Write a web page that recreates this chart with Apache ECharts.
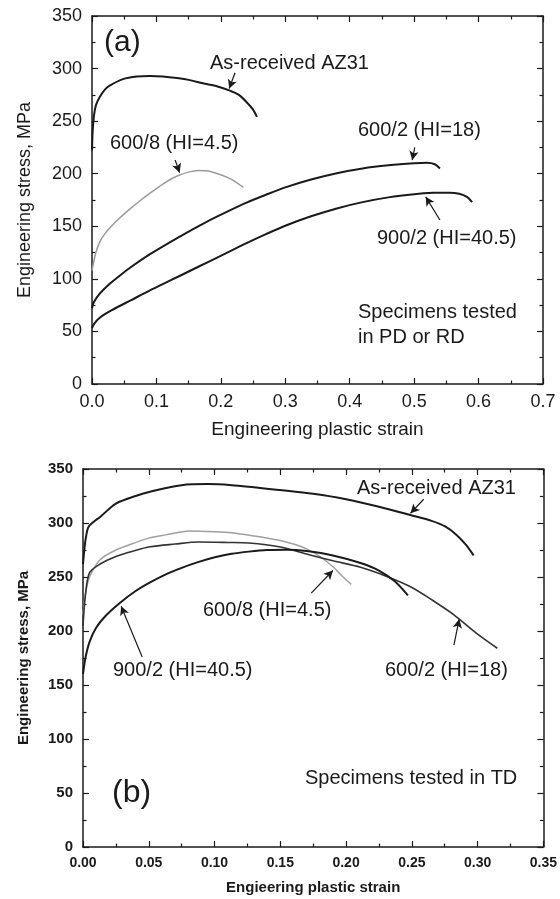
<!DOCTYPE html>
<html>
<head>
<meta charset="utf-8">
<script src="https://cdn.jsdelivr.net/npm/echarts@6/dist/echarts.min.js"></script>
<style>
html, body { margin: 0; padding: 0; background: #fff; }
#main { width: 560px; height: 899px; }
</style>
</head>
<body>
<div id="main"></div>
<script>
// (a) specimens tested in PD or RD
var strainAsRecA = [0, 0.001, 0.003, 0.006, 0.012, 0.02, 0.028, 0.048, 0.07, 0.09, 0.11, 0.132, 0.152, 0.172, 0.195, 0.214, 0.228, 0.24, 0.25, 0.256];
var stressAsRecA = [222, 240, 255, 265, 273, 280, 284, 290, 292.5, 293, 292.5, 291, 289, 286, 283, 279, 275, 268, 261, 254];
var strain6008A = [0, 0.002, 0.006, 0.012, 0.02, 0.03, 0.045, 0.06, 0.075, 0.09, 0.105, 0.12, 0.135, 0.15, 0.165, 0.18, 0.195, 0.21, 0.222, 0.235];
var stress6008A = [108, 114, 125, 135, 143, 150, 159, 167, 174.5, 181.5, 188, 194, 198.5, 201.5, 203, 202.5, 200, 196.5, 192.5, 187];
var strain6002A = [0, 0.003, 0.012, 0.025, 0.04, 0.06, 0.09, 0.12, 0.15, 0.18, 0.21, 0.24, 0.27, 0.3, 0.34, 0.38, 0.42, 0.46, 0.5, 0.52, 0.532, 0.54];
var stress6002A = [72, 78, 86, 94, 101.5, 111, 123.5, 134.5, 145, 155, 164, 172.5, 180, 187, 194.5, 200.5, 205, 208, 210, 210.5, 209, 205];
var strain9002A = [0, 0.003, 0.012, 0.03, 0.06, 0.09, 0.12, 0.15, 0.18, 0.21, 0.24, 0.27, 0.3, 0.34, 0.38, 0.42, 0.46, 0.5, 0.53, 0.555, 0.57, 0.582, 0.59];
var stress9002A = [53, 57, 63, 70, 79.5, 89, 98, 107, 116, 125, 134, 142.5, 150.5, 159.5, 167, 173, 177.5, 180.5, 181.8, 182, 181, 178, 173];

// (b) specimens tested in TD
var strainAsRecB = [0, 0.001, 0.002, 0.004, 0.008, 0.013, 0.025, 0.04, 0.051, 0.075, 0.095, 0.113, 0.13, 0.149, 0.175, 0.2, 0.225, 0.25, 0.265, 0.275, 0.284, 0.291, 0.297];
var stressAsRecB = [262, 275, 285, 296, 301, 305.6, 318, 325, 329, 335, 336, 335, 333, 330.6, 327, 322, 315, 307, 302, 297, 289, 280, 270];
var strain6008B = [0, 0.002, 0.005, 0.013, 0.025, 0.038, 0.05, 0.063, 0.081, 0.1, 0.113, 0.13, 0.149, 0.16, 0.17, 0.18, 0.19, 0.197, 0.204];
var stress6008B = [215, 235, 250, 266, 275, 281, 286, 289, 292.6, 292, 291, 288, 284, 280.5, 276, 269, 259.5, 251, 243];
var strain6002B = [0, 0.002, 0.005, 0.013, 0.025, 0.038, 0.051, 0.07, 0.088, 0.11, 0.126, 0.149, 0.174, 0.19, 0.211, 0.23, 0.249, 0.265, 0.282, 0.299, 0.315];
var stress6002B = [205, 235, 254, 262, 269, 274, 278, 280.5, 282.4, 282, 281.5, 278, 270, 265, 259, 251, 241, 229, 215, 198, 184];
var strain9002B = [0, 0.002, 0.005, 0.01, 0.018, 0.028, 0.04, 0.051, 0.063, 0.075, 0.088, 0.101, 0.113, 0.126, 0.14, 0.155, 0.17, 0.19, 0.211, 0.225, 0.237, 0.247];
var stress9002B = [160, 176, 190, 203, 215, 226, 237, 245, 252.5, 258.5, 264, 268.5, 271.5, 273.5, 275, 275.3, 274, 270, 263, 256, 246, 233];

var font = 'Liberation Sans, Arial, sans-serif';
var ink = '#1a1a1a';

function pairs(xs, ys) {
    return xs.map(function (x, i) { return [x, ys[i]]; });
}

function arrow(from, to) {
    return [{coord: from}, {coord: to}];
}

function xAxisOf(grid, max, step, digits, pos, labels, size, weight, name, gap) {
    return {
        type: 'value', gridIndex: grid, position: pos,
        min: 0, max: max, interval: step,
        name: labels ? name : '', nameLocation: 'middle', nameGap: gap,
        nameTextStyle: {fontFamily: font, fontSize: size + 1, fontWeight: weight, color: ink},
        axisLine: {show: true, onZero: false, lineStyle: {color: ink, width: 1.5}},
        axisTick: {show: true, inside: true, length: 6, lineStyle: {color: ink, width: 1.2}},
        minorTick: {show: true, splitNumber: 2, length: 3.5, lineStyle: {color: ink, width: 1.2}},
        axisLabel: {show: labels, margin: 9, fontFamily: font, fontSize: size, fontWeight: weight, color: ink,
            formatter: function (v) { return v.toFixed(digits); }},
        splitLine: {show: false}
    };
}

function yAxisOf(grid, pos, labels, size, weight, gap) {
    return {
        type: 'value', gridIndex: grid, position: pos,
        min: 0, max: 350, interval: 50,
        name: labels ? 'Engineering stress, MPa' : '', nameLocation: 'middle', nameGap: gap,
        nameTextStyle: {fontFamily: font, fontSize: size, fontWeight: weight, color: ink},
        axisLine: {show: true, onZero: false, lineStyle: {color: ink, width: 1.5}},
        axisTick: {show: true, inside: true, length: 6, lineStyle: {color: ink, width: 1.2}},
        minorTick: {show: true, splitNumber: 2, length: 3.5, lineStyle: {color: ink, width: 1.2}},
        axisLabel: {show: labels, margin: 10, fontFamily: font, fontSize: size, fontWeight: weight, color: ink},
        splitLine: {show: false}
    };
}

function curve(name, xs, ys, xi, color, width, arrows) {
    var s = {
        name: name, type: 'line', xAxisIndex: xi, yAxisIndex: xi,
        data: pairs(xs, ys), showSymbol: false, smooth: 0.3,
        lineStyle: {color: color, width: width}, z: 3
    };
    if (arrows) {
        s.markLine = {
            silent: true, symbol: ['none', 'arrow'], symbolSize: [7, 9],
            label: {show: false},
            lineStyle: {color: ink, width: 1.2, type: 'solid'},
            data: arrows
        };
    }
    return s;
}

function note(text, x, y, size) {
    return {
        type: 'text', x: x, y: y, silent: true,
        style: {text: text, fill: ink, font: (size || 20) + 'px ' + font,
            textAlign: 'left', textVerticalAlign: 'middle'}
    };
}

var chart = echarts.init(document.getElementById('main'));
chart.setOption({
    backgroundColor: '#fff',
    animation: false,
    grid: [
        {left: 92, top: 16, width: 451, height: 368},
        {left: 83, top: 469, width: 464, height: 378}
    ],
    xAxis: [
        xAxisOf(0, 0.7, 0.1, 1, 'bottom', true, 18, 'normal', 'Engineering plastic strain', 36),
        xAxisOf(0, 0.7, 0.1, 1, 'top', false, 18, 'normal', '', 0),
        xAxisOf(1, 0.35, 0.05, 2, 'bottom', true, 14, 'bold', 'Engieering plastic strain', 33),
        xAxisOf(1, 0.35, 0.05, 2, 'top', false, 14, 'bold', '', 0)
    ],
    yAxis: [
        yAxisOf(0, 'left', true, 18, 'normal', 58),
        yAxisOf(0, 'right', false, 18, 'normal', 0),
        yAxisOf(1, 'left', true, 15, 'bold', 52),
        yAxisOf(1, 'right', false, 15, 'bold', 0)
    ],
    series: [
        curve('As-received AZ31', strainAsRecA, stressAsRecA, 0, ink, 2, [arrow([0.222, 296], [0.213, 281])]),
        curve('600/8 (HI=4.5)', strain6008A, stress6008A, 0, '#9a9a9a', 1.5, [arrow([0.129, 213], [0.136, 201])]),
        curve('600/2 (HI=18)', strain6002A, stress6002A, 0, ink, 2, [arrow([0.501, 225], [0.497, 213])]),
        curve('900/2 (HI=40.5)', strain9002A, stress9002A, 0, ink, 2, [arrow([0.540, 156], [0.518, 178])]),
        curve('As-received AZ31', strainAsRecB, stressAsRecB, 2, ink, 2, [arrow([0.259, 322], [0.249, 309])]),
        curve('600/8 (HI=4.5)', strain6008B, stress6008B, 2, '#a0a0a0', 1.5, [arrow([0.1735, 235], [0.19, 256])]),
        curve('600/2 (HI=18)', strain6002B, stress6002B, 2, '#333', 1.6, [arrow([0.282, 187], [0.286, 211])]),
        curve('900/2 (HI=40.5)', strain9002B, stress9002B, 2, ink, 2, [arrow([0.045, 176], [0.029, 223])])
    ],
    graphic: [
        note('(a)', 104, 43, 30),
        note('As-received AZ31', 210, 63),
        note('600/8 (HI=4.5)', 110, 143),
        note('600/2 (HI=18)', 358, 130),
        note('900/2 (HI=40.5)', 377, 238),
        note('Specimens tested', 358, 312),
        note('in PD or RD', 358, 337),
        note('As-received AZ31', 357, 488),
        note('600/8 (HI=4.5)', 203, 610),
        note('900/2 (HI=40.5)', 113, 670),
        note('600/2 (HI=18)', 385, 670),
        note('Specimens tested in TD', 305, 778),
        note('(b)', 112, 793, 32)
    ]
});
</script>
</body>
</html>
